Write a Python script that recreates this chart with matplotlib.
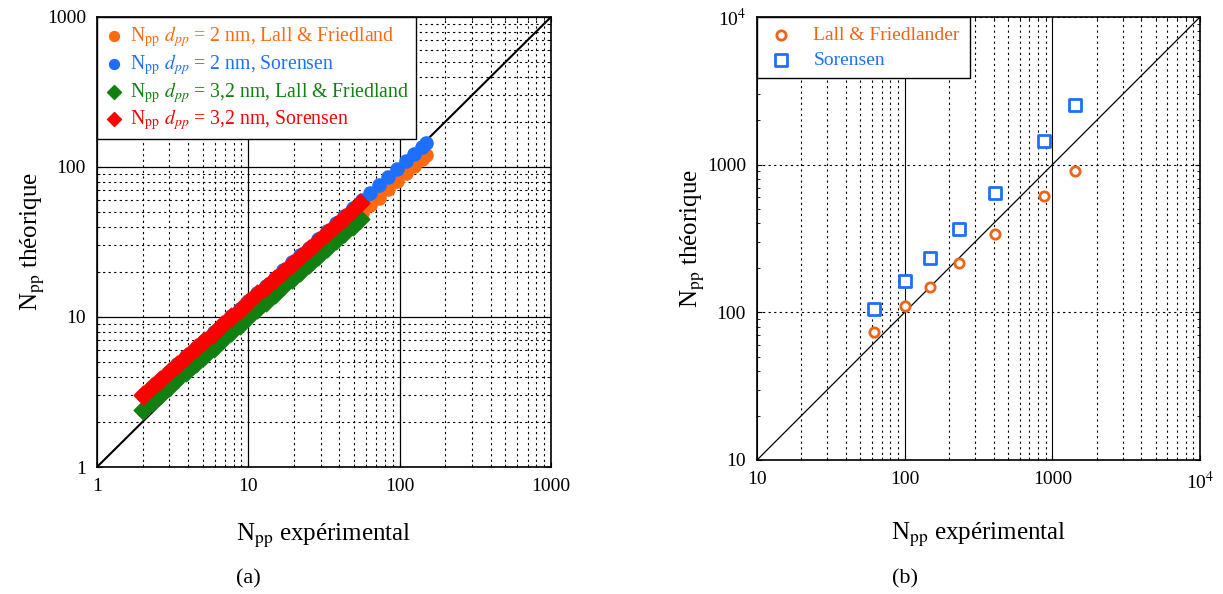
import numpy as np
import matplotlib
matplotlib.use('Agg')
import matplotlib.pyplot as plt
from matplotlib.ticker import FuncFormatter

plt.rcParams['font.family'] = ['Liberation Serif', 'DejaVu Serif']
plt.rcParams['mathtext.fontset'] = 'stix'

# (a) dense series
x_2nm = [2, 2.3, 2.6, 3, 3.4, 3.9, 4.5, 5.1, 5.9, 6.7, 7.7, 8.8, 10, 11.5, 13, 15, 17,
         19.5, 22, 25, 29, 33, 38, 43, 49, 56, 64, 73, 84, 96, 110, 125, 140, 150]
y_2nm_lall = [2.4, 2.72, 3.04, 3.47, 3.88, 4.39, 5.0, 5.6, 6.4, 7.18, 8.14, 9.19, 10.3,
              11.7, 13.1, 14.9, 16.7, 18.9, 21.1, 23.7, 27.1, 30.4, 34.6, 38.7, 43.5,
              49.1, 55.4, 62.5, 70.9, 80.1, 90.6, 101.7, 112.7, 120]
y_2nm_sor = [3.0, 3.4, 3.8, 4.32, 4.83, 5.46, 6.21, 6.95, 7.93, 8.88, 10.1, 11.3, 12.7,
             14.4, 16.1, 18.3, 20.5, 23.2, 25.8, 29.0, 33.1, 37.2, 42.2, 47.2, 53.0,
             59.8, 67.4, 75.9, 86.1, 97.0, 109.6, 123, 136, 145]
x_32nm = [2, 2.3, 2.6, 3, 3.4, 3.9, 4.5, 5.1, 5.9, 6.7, 7.7, 8.8, 10, 11.5, 13, 15, 17,
          19.5, 22, 25, 29, 33, 38, 43, 49, 55]
y_32nm_lall = [2.4, 2.72, 3.03, 3.44, 3.84, 4.33, 4.92, 5.5, 6.25, 7.0, 7.91, 8.91, 9.97,
               11.3, 12.6, 14.3, 16.0, 18.0, 20.0, 22.4, 25.6, 28.7, 32.5, 36.3, 40.7, 45.1]
y_32nm_sor = [3.0, 3.4, 3.79, 4.3, 4.81, 5.43, 6.17, 6.9, 7.85, 8.79, 9.95, 11.2, 12.5,
              14.2, 15.8, 18.0, 20.1, 22.7, 25.3, 28.3, 32.3, 36.3, 41.1, 45.9, 51.5, 57.1]

# (b) points
x_exp = [62, 100, 148, 232, 412, 875, 1425]
y_lall = [74, 110, 149, 216, 338, 618, 910]
y_sor = [105, 164, 234, 364, 644, 1436, 2527]

c_orange = '#FF6A10'
c_blue = '#1F6FFF'
c_green = '#118011'
c_red = '#FF0000'

fig = plt.figure(figsize=(12.23, 5.94), dpi=100)
ax1 = fig.add_axes([0.0793, 0.2138, 0.3712, 0.7576])
ax2 = fig.add_axes([0.619, 0.2256, 0.3622, 0.7458])

# ---- (a)
ax1.set_xscale('log')
ax1.set_yscale('log')
ax1.set_xlim(1, 1000)
ax1.set_ylim(1, 1000)
ax1.grid(True, which='major', color='black', linestyle='-', linewidth=0.9)
ax1.grid(True, which='minor', color='black', linestyle=(0, (2, 3)), linewidth=0.8)
ax1.plot([1, 1000], [1, 1000], color='black', linewidth=1.5, zorder=2)
ax1.scatter(x_2nm, y_2nm_lall, s=90, marker='o', color=c_orange, zorder=3,
            label=r'N$_{\rm pp}$ $d_{pp}$ = 2 nm, Lall & Friedland')
ax1.scatter(x_2nm, y_2nm_sor, s=90, marker='o', color=c_blue, zorder=3,
            label=r'N$_{\rm pp}$ $d_{pp}$ = 2 nm, Sorensen')
ax1.scatter(x_32nm, y_32nm_lall, s=90, marker='D', color=c_green, zorder=4,
            label=r'N$_{\rm pp}$ $d_{pp}$ = 3,2 nm, Lall & Friedland')
ax1.scatter(x_32nm, y_32nm_sor, s=90, marker='D', color=c_red, zorder=4,
            label=r'N$_{\rm pp}$ $d_{pp}$ = 3,2 nm, Sorensen')
leg1 = ax1.legend(loc='upper left', fontsize=14.2, frameon=True, fancybox=False,
                  edgecolor='black', framealpha=1, handletextpad=0.3,
                  borderaxespad=0.0, labelspacing=0.15, handlelength=1.0,
                  borderpad=0.35, markerscale=0.75)
leg1.get_frame().set_linewidth(1.0)
for t, c in zip(leg1.get_texts(), [c_orange, c_blue, c_green, c_red]):
    t.set_color(c)
ax1.set_xlabel(r'N$_{\rm pp}$ expérimental', fontsize=18, labelpad=19)
ax1.set_ylabel(r'N$_{\rm pp}$ théorique', fontsize=18, labelpad=0)
fmt1 = FuncFormatter(lambda v, p: '%d' % v)
ax1.xaxis.set_major_formatter(fmt1)
ax1.yaxis.set_major_formatter(fmt1)
ax1.tick_params(which='both', direction='in', labelsize=14, top=True, right=True)
ax1.tick_params(which='major', pad=8)
for s in ax1.spines.values():
    s.set_linewidth(1.2)

# ---- (b)
ax2.set_xscale('log')
ax2.set_yscale('log')
ax2.set_xlim(10, 1e4)
ax2.set_ylim(10, 1e4)
ax2.xaxis.grid(True, which='major', color='black', linestyle='-', linewidth=0.8)
ax2.xaxis.grid(True, which='minor', color='black', linestyle=(0, (2, 3)), linewidth=0.8)
ax2.yaxis.grid(True, which='major', color='black', linestyle=(0, (2, 3)), linewidth=0.8)
ax2.plot([10, 1e4], [10, 1e4], color='black', linewidth=0.9, zorder=2)
ax2.scatter(x_exp, y_lall, s=45, marker='o', facecolors='white', edgecolors='#F06416',
            linewidths=2, zorder=3, label='Lall & Friedlander')
ax2.scatter(x_exp, y_sor, s=70, marker='s', facecolors='white', edgecolors=c_blue,
            linewidths=2, zorder=3, label='Sorensen')
leg2 = ax2.legend(loc='upper left', fontsize=14, frameon=True, fancybox=False,
                  edgecolor='black', framealpha=1, handletextpad=0.9,
                  borderaxespad=0.0, labelspacing=0.35, borderpad=0.5,
                  handlelength=1.5)
leg2.get_frame().set_linewidth(1.0)
for t, c in zip(leg2.get_texts(), ['#F06416', c_blue]):
    t.set_color(c)
ax2.set_xlabel(r'N$_{\rm pp}$ expérimental', fontsize=18, labelpad=20)
ax2.set_ylabel(r'N$_{\rm pp}$ théorique', fontsize=18, labelpad=0)


def fmt_b(v, p):
    if v >= 1e4:
        return r'10$^{4}$'
    return '%d' % v


ax2.xaxis.set_major_formatter(FuncFormatter(fmt_b))
ax2.yaxis.set_major_formatter(FuncFormatter(fmt_b))
ax2.tick_params(which='both', direction='in', labelsize=14, top=True, right=True)
ax2.tick_params(which='major', pad=8)
for s in ax2.spines.values():
    s.set_linewidth(1.2)

fig.text(0.203, 0.017, '(a)', fontsize=16, ha='center')
fig.text(0.74, 0.017, '(b)', fontsize=16, ha='center')

fig.savefig('out.png', dpi=100)
